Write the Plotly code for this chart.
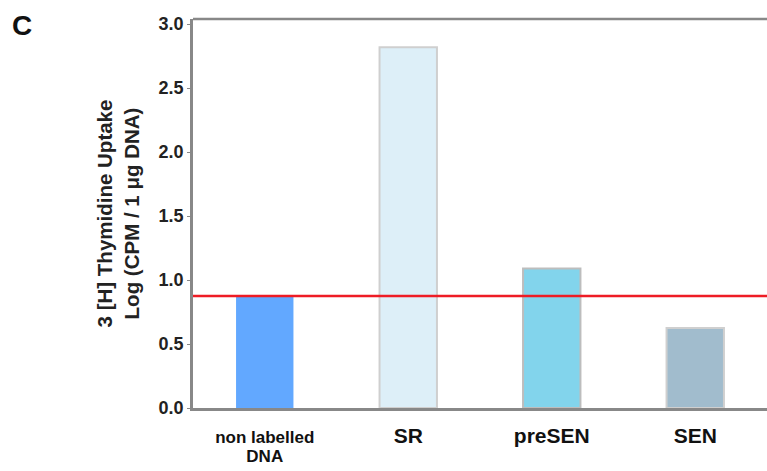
import plotly.graph_objects as go

categories = ["non labelled<br>DNA", "SR", "preSEN", "SEN"]
values = [0.875, 2.82, 1.09, 0.625]
bar_colors = ["#62A8FF", "#DDEFF8", "#82D4EC", "#A1BCCD"]
border_colors = ["rgba(0,0,0,0)", "#CFCFCF", "#BDBDBD", "#CFCFCF"]
threshold = 0.875
y_ticks = [0.0, 0.5, 1.0, 1.5, 2.0, 2.5, 3.0]


def tick_label(cat):
    size = 17 if "<br>" in cat else 21
    return "<br>".join("<b><span style='font-size:%dpx'>%s</span></b>" % (size, part)
                       for part in cat.split("<br>"))


fig = go.Figure()
fig.add_trace(go.Bar(
    x=list(range(len(categories))), y=values, width=0.4,
    marker=dict(color=bar_colors, line=dict(color=border_colors, width=2)),
))
fig.add_shape(type="line", xref="paper", yref="y", x0=0, x1=1, y0=threshold, y1=threshold,
              line=dict(color="#EE1C25", width=2.5))
fig.add_shape(type="line", xref="paper", yref="paper", x0=0, x1=1, y0=1, y1=1,
              line=dict(color="#888888", width=2.5))

fig.update_layout(
    width=767, height=471,
    margin=dict(l=193, r=0, t=19, b=63),
    plot_bgcolor="white", paper_bgcolor="white",
    showlegend=False,
    font=dict(family="Liberation Sans, Arial", color="#222222"),
    xaxis=dict(
        range=[-0.5, 3.5], tickmode="array", tickvals=list(range(len(categories))),
        ticktext=[tick_label(c) for c in categories],
        tickfont=dict(size=15, color="#111111"),
        ticklabelstandoff=14,
        showline=True, linecolor="#888888", linewidth=2.5,
        ticks="", showgrid=False, zeroline=False,
    ),
    yaxis=dict(
        range=[0, 3.04], tickmode="array", tickvals=y_ticks,
        ticktext=["<b>%.1f</b>" % v for v in y_ticks],
        tickfont=dict(size=18, color="#222222"),
        showline=True, linecolor="#888888", linewidth=2.5,
        ticks="outside", ticklen=3, tickcolor="#888888",
        showgrid=False, zeroline=False,
        title=dict(text="<b>3 [H] Thymidine Uptake<br>Log (CPM / 1 μg DNA)</b>",
                   font=dict(size=20.5, color="#222222"), standoff=14),
    ),
    annotations=[dict(text="<b>C</b>", xref="paper", yref="paper",
                      x=-171 / 574, y=1 + (19 - 25) / 389,
                      xanchor="center", yanchor="middle",
                      showarrow=False, font=dict(size=28, color="#111111"))],
)
fig.write_html("out.html")
